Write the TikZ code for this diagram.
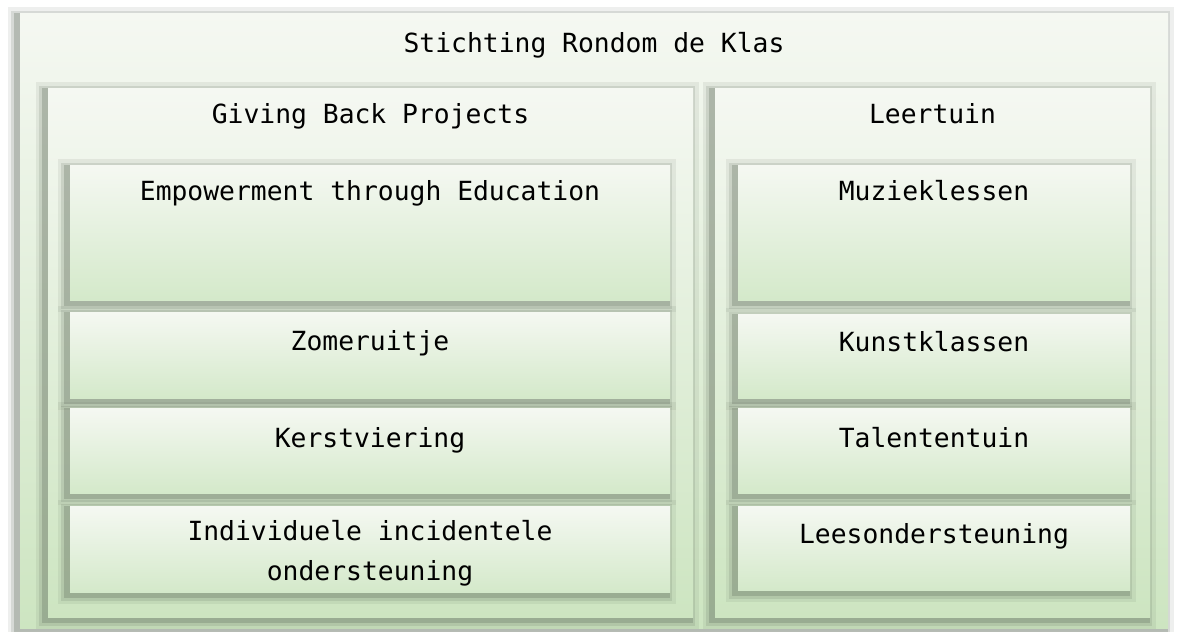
\documentclass[tikz,border=0pt]{standalone}
\usepackage{fontspec}
\setmonofont{DejaVu Sans Mono}
\usetikzlibrary{positioning}

\definecolor{paletop}{HTML}{F5F8F2}
\definecolor{palebot}{HTML}{CDE5C1}
\definecolor{itemmid}{HTML}{C8E0BA}
\definecolor{itembot}{HTML}{D4E9CA}
\definecolor{shadowgray}{HTML}{5E6A5A}

\tikzset{
  soft shadow/.style={
    preaction={draw=shadowgray, draw opacity=0.10, line width=5pt,
      transform canvas={xshift=-0.9pt, yshift=-0.9pt}},
    preaction={draw=shadowgray, draw opacity=0.16, line width=3.2pt,
      transform canvas={xshift=-0.9pt, yshift=-0.9pt}},
    preaction={draw=shadowgray, draw opacity=0.28, line width=1.6pt,
      transform canvas={xshift=-0.9pt, yshift=-0.9pt}}},
  shade box/.style={inner sep=0pt, soft shadow, top color=paletop, bottom color=palebot},
  item/.style={inner sep=0pt, soft shadow, top color=paletop, middle color=itemmid,
    bottom color=itembot},
  lbl/.style={inner sep=0pt, align=center,
    font=\ttfamily\fontsize{7.5}{11.4}\selectfont}
}

\begin{document}
\begin{tikzpicture}
  \useasboundingbox[fill=white] (0,0) rectangle (11.80,-6.31);

  % outer frame
  \node[shade box, minimum width=11.48cm, minimum height=6.15cm] (klas) at (5.94,-3.205) {};
  \node[lbl, below=0.195cm of klas.north] (klastxt) {Stichting Rondom de Klas};

  % the two panels
  \node[shade box, minimum width=6.45cm, minimum height=5.29cm] (gbp) at (3.705,-3.525) {};
  \node[lbl, below=0.155cm of gbp.north] (gbptxt) {Giving Back Projects};
  \node[shade box, minimum width=4.35cm, minimum height=5.29cm] (tuin) at (9.325,-3.525) {};
  \node[lbl, below=0.155cm of tuin.north] (tuintxt) {Leertuin};

  % Giving Back Projects
  \node[item, minimum width=6.00cm, minimum height=1.35cm] (edu) at (3.70,-2.325) {};
  \node[lbl, below=0.155cm of edu.north] (edutxt) {Empowerment through Education};
  \node[item, minimum width=6.00cm, minimum height=0.86cm] (zomer) at (3.70,-3.55) {};
  \node[lbl, below=0.185cm of zomer.north] (zomertxt) {Zomeruitje};
  \node[item, minimum width=6.00cm, minimum height=0.85cm] (kerst) at (3.70,-4.505) {};
  \node[lbl, below=0.195cm of kerst.north] (kersttxt) {Kerstviering};
  \node[item, minimum width=6.00cm, minimum height=0.86cm] (indiv) at (3.70,-5.49) {};
  \node[lbl, below=0.145cm of indiv.north] (indivtxt) {Individuele incidentele\\ondersteuning};

  % Leertuin
  \node[item, minimum width=3.92cm, minimum height=1.35cm] (muziek) at (9.34,-2.325) {};
  \node[lbl, below=0.155cm of muziek.north] (muziektxt) {Muzieklessen};
  \node[item, minimum width=3.92cm, minimum height=0.84cm] (kunst) at (9.34,-3.56) {};
  \node[lbl, below=0.175cm of kunst.north] (kunsttxt) {Kunstklassen};
  \node[item, minimum width=3.92cm, minimum height=0.85cm] (talent) at (9.34,-4.505) {};
  \node[lbl, below=0.195cm of talent.north] (talenttxt) {Talententuin};
  \node[item, minimum width=3.92cm, minimum height=0.84cm] (lees) at (9.34,-5.48) {};
  \node[lbl, below=0.175cm of lees.north] (leestxt) {Leesondersteuning};
\end{tikzpicture}
\end{document}
